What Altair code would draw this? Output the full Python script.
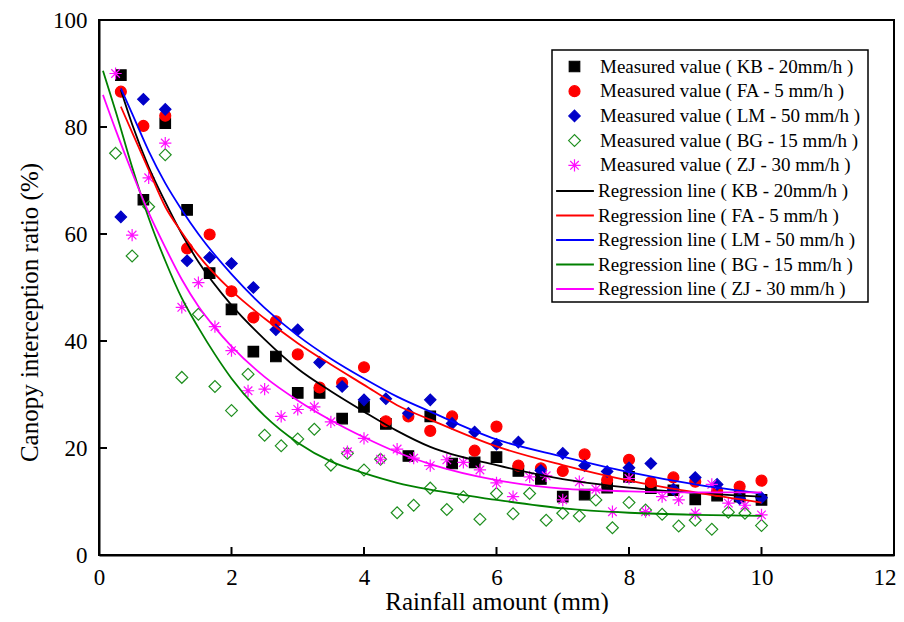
import altair as alt
import pandas as pd

FONT = "Liberation Serif"

# ---------------- data ----------------
rain_third = [0.33, 0.67, 1.0, 1.33, 1.67, 2.0, 2.33, 2.67, 3.0, 3.33,
              3.67, 4.0, 4.33, 4.67, 5.0, 5.33, 5.67, 6.0, 6.33, 6.67,
              7.0, 7.33, 7.67, 8.0, 8.33, 8.67, 9.0, 9.33, 9.67, 10.0]
rain_quarter = [0.25, 0.5, 0.75, 1.0, 1.25, 1.5, 1.75, 2.0, 2.25, 2.5,
                2.75, 3.0, 3.25, 3.5, 3.75, 4.0, 4.25, 4.5, 4.75, 5.0,
                5.25, 5.5, 5.75, 6.0, 6.25, 6.5, 6.75, 7.0, 7.25, 7.5,
                7.75, 8.0, 8.25, 8.5, 8.75, 9.0, 9.25, 9.5, 9.75, 10.0]

kb_meas = [89.7, 66.4, 80.7, 64.5, 52.7, 45.9, 38.0, 37.1, 30.3, 30.3,
           25.5, 27.7, 24.5, 18.5, 25.9, 17.1, 17.3, 18.3, 15.7, 14.2,
           10.9, 11.3, 12.6, 14.6, 12.5, 12.1, 10.4, 11.1, 10.9, 10.3]
fa_meas = [86.6, 80.2, 82.1, 57.3, 59.9, 49.3, 44.4, 43.7, 37.5, 31.3,
           32.2, 35.1, 25.0, 25.9, 23.2, 25.9, 19.5, 24.0, 16.7, 16.2,
           15.7, 18.8, 14.0, 17.8, 13.6, 14.5, 13.7, 12.0, 12.8, 13.9]
lm_meas = [63.2, 85.2, 83.3, 55.0, 55.6, 54.5, 50.0, 42.1, 42.1, 36.0,
           31.5, 29.0, 29.2, 26.5, 29.0, 24.6, 23.0, 20.7, 21.1, 15.8,
           19.0, 16.7, 15.6, 16.3, 17.1, 12.3, 14.5, 13.2, 10.5, 10.7]
bg_meas = [75.1, 55.9, 65.1, 74.8, 33.2, 45.0, 31.5, 27.0, 33.8, 22.4,
           20.4, 21.7, 23.5, 16.8, 19.0, 15.9, 17.9, 7.9, 9.3, 12.5,
           8.5, 10.9, 6.7, 11.5, 7.7, 11.5, 6.5, 7.8, 7.3, 10.3,
           5.1, 9.8, 8.4, 7.6, 5.4, 6.5, 4.8, 8.0, 7.8, 5.5]
zj_meas = [90.0, 59.8, 70.5, 77.0, 46.3, 50.9, 42.7, 38.2, 30.7, 31.0,
           25.9, 27.2, 27.7, 24.9, 19.3, 21.8, 17.9, 19.8, 18.1, 16.7,
           17.8, 17.3, 15.9, 13.5, 10.9, 14.6, 14.8, 10.3, 13.7, 12.3,
           8.1, 14.3, 8.1, 10.9, 10.3, 7.8, 13.2, 9.7, 9.3, 7.5]

fit_x_a = [0.33, 0.5, 0.75, 1.0, 1.25, 1.5, 2.0, 2.5, 3.0, 3.5,
           4.0, 4.5, 5.0, 6.0, 7.0, 8.0, 9.0, 10.0]
kb_fit = [86.9, 80.5, 72.5, 66.0, 60.0, 54.8, 46.7, 40.3, 34.8, 30.6,
          26.8, 23.2, 20.2, 16.8, 14.2, 12.6, 11.6, 10.9]
fa_fit = [83.8, 79.0, 72.0, 65.1, 60.3, 56.0, 49.4, 44.2, 39.6, 35.6,
          31.8, 28.0, 25.3, 20.3, 16.8, 13.9, 11.7, 9.8]
lm_fit = [87.2, 82.5, 75.5, 69.5, 64.5, 60.0, 52.5, 46.2, 41.0, 36.7,
          33.0, 29.6, 26.8, 21.6, 18.4, 15.5, 13.2, 11.5]
fit_x_b = [0.06, 0.25, 0.5, 0.75, 1.0, 1.25, 1.5, 1.75, 2.0, 2.5,
           3.0, 3.5, 4.0, 4.5, 5.0, 6.0, 7.0, 8.0, 9.0, 10.0]
bg_fit = [90.5, 83.0, 72.5, 63.0, 55.0, 48.0, 42.5, 37.5, 33.0, 26.0,
          21.0, 17.5, 15.3, 13.5, 12.2, 10.3, 8.7, 7.9, 7.5, 7.3]
zj_fit = [86.0, 79.5, 71.5, 64.0, 57.5, 51.5, 46.5, 42.5, 39.0, 33.3,
          28.9, 25.2, 22.0, 19.2, 17.0, 14.0, 12.4, 11.9, 11.7, 11.7]

meas_names = ["Measured value ( KB - 20mm/h )", "Measured value ( FA - 5 mm/h )",
              "Measured value ( LM - 50 mm/h )", "Measured value ( BG - 15 mm/h )",
              "Measured value ( ZJ - 30 mm/h )"]
fit_names = ["Regression line ( KB - 20mm/h )", "Regression line ( FA - 5 mm/h )",
             "Regression line ( LM - 50 mm/h )", "Regression line ( BG - 15 mm/h )",
             "Regression line ( ZJ - 30 mm/h )"]

x_ticks = [0, 2, 4, 6, 8, 10, 12]
y_ticks = [0, 20, 40, 60, 80, 100]

# ---------------- styles ----------------
meas_stroke = ["#000000", "#ff0000", "#0000c8", "#1f8f1f", "#ff10ff"]
meas_fill = ["#000000", "#ff0000", "#0000c8", "transparent", "transparent"]
asterisk = "M-1,0L1,0M0,-1L0,1M-0.7,-0.7L0.7,0.7M-0.7,0.7L0.7,-0.7"
meas_shape = ["square", "circle", "diamond", "diamond", asterisk]
meas_size = [110, 150, 220, 190, 240]
fit_colors = ["#000000", "#ff0000", "#0000ff", "#008000", "#ff00ff"]

# ---------------- tables ----------------
pts_rows = []
for name, xs, ys in [(meas_names[0], rain_third, kb_meas),
                     (meas_names[1], rain_third, fa_meas),
                     (meas_names[2], rain_third, lm_meas),
                     (meas_names[3], rain_quarter, bg_meas),
                     (meas_names[4], rain_quarter, zj_meas)]:
    for a, b in zip(xs, ys):
        pts_rows.append({"rain": a, "ratio": b, "series": name})
pts = pd.DataFrame(pts_rows)

fit_rows = []
for name, xs, ys in [(fit_names[0], fit_x_a, kb_fit),
                     (fit_names[1], fit_x_a, fa_fit),
                     (fit_names[2], fit_x_a, lm_fit),
                     (fit_names[3], fit_x_b, bg_fit),
                     (fit_names[4], fit_x_b, zj_fit)]:
    for a, b in zip(xs, ys):
        fit_rows.append({"rain": a, "ratio": b, "line": name})
fits = pd.DataFrame(fit_rows)

W, H = 795, 535
x_scale = alt.Scale(domain=[0, 12], nice=False, zero=False)
y_scale = alt.Scale(domain=[0, 100], nice=False)

x_axis = alt.Axis(values=x_ticks, format="d", ticks=False, tickSize=0, grid=False,
                  labelFont=FONT, labelFontSize=23, labelColor="black",
                  labelPadding=11, labelFlush=False,
                  labelAlign={"condition": {"test": "datum.value >= 12", "value": "right"},
                              "value": "center"},
                  labelOffset={"condition": {"test": "datum.value >= 12", "value": 2},
                               "value": 0},
                  title="Rainfall amount (mm)", titleFont=FONT, titleFontSize=25,
                  titleFontWeight="normal", titleColor="black",
                  titleY=46, titleBaseline="middle",
                  domainColor="black", domainWidth=2)
y_axis = alt.Axis(values=y_ticks, format="d", ticks=False, tickSize=0, grid=False,
                  labelFont=FONT, labelFontSize=23, labelColor="black",
                  labelPadding=12, labelFlush=False,
                  title="Canopy interception ratio (%)", titleFont=FONT,
                  titleFontSize=25, titleFontWeight="normal", titleColor="black",
                  titleX=-70, titleY=292, titleAlign="center",
                  titleBaseline="middle", titleAngle=270,
                  domainColor="black", domainWidth=2)

pt_legend = alt.Legend(title=None, orient="none", legendX=466, legendY=37,
                       labelFont=FONT, labelFontSize=19, labelColor="black",
                       labelLimit=500, labelOffset=16, rowPadding=4.7,
                       padding=0, symbolStrokeWidth=1.2)
line_sym = "M-2.1,0L2.1,0"
fit_legend = alt.Legend(title=None, orient="none", legendX=466, legendY=161,
                        labelFont=FONT, labelFontSize=19, labelColor="black",
                        labelLimit=500, labelOffset=13, rowPadding=4.5,
                        padding=0, symbolType=line_sym, symbolSize=324,
                        symbolStrokeWidth=2)

X = alt.X("rain:Q", scale=x_scale, axis=x_axis)
Y = alt.Y("ratio:Q", scale=y_scale, axis=y_axis)

points = alt.Chart(pts).mark_point(opacity=1, strokeWidth=1.2).encode(
    x=X, y=Y,
    shape=alt.Shape("series:N", scale=alt.Scale(domain=meas_names, range=meas_shape), legend=pt_legend),
    stroke=alt.Stroke("series:N", scale=alt.Scale(domain=meas_names, range=meas_stroke), legend=pt_legend),
    fill=alt.Fill("series:N", scale=alt.Scale(domain=meas_names, range=meas_fill), legend=pt_legend),
    size=alt.Size("series:N", scale=alt.Scale(domain=meas_names, range=meas_size), legend=pt_legend),
)

lines = alt.Chart(fits).mark_line(strokeWidth=1.8, interpolate="monotone").encode(
    x=X, y=Y,
    color=alt.Color("line:N", scale=alt.Scale(domain=fit_names, range=fit_colors), legend=fit_legend),
)

xt = alt.Chart(pd.DataFrame({"rain": x_ticks})).mark_rule(color="black", strokeWidth=2).encode(
    x=X, y=alt.value(H), y2=alt.value(H - 8))
yt = alt.Chart(pd.DataFrame({"ratio": y_ticks})).mark_rule(color="black", strokeWidth=2).encode(
    y=Y, x=alt.value(0), x2=alt.value(8))

box = alt.Chart(pd.DataFrame({"k": [0]})).mark_rect(fill="white", stroke="black", strokeWidth=1.5).encode(
    x=alt.value(453), x2=alt.value(769), y=alt.value(30), y2=alt.value(282))

chart = alt.layer(box, points, lines, xt, yt).properties(
    width=W, height=H,
    padding={"left": 91, "top": 12, "right": 2, "bottom": 59},
    autosize=alt.AutoSizeParams(type="none"),
    background="white",
).configure(font=FONT).configure_axis(
    labelFont=FONT, titleFont=FONT
).configure_legend(labelFont=FONT).configure_view(stroke="black", strokeWidth=2)

chart.save("out.html", embed_options={"renderer": "svg", "actions": False})
